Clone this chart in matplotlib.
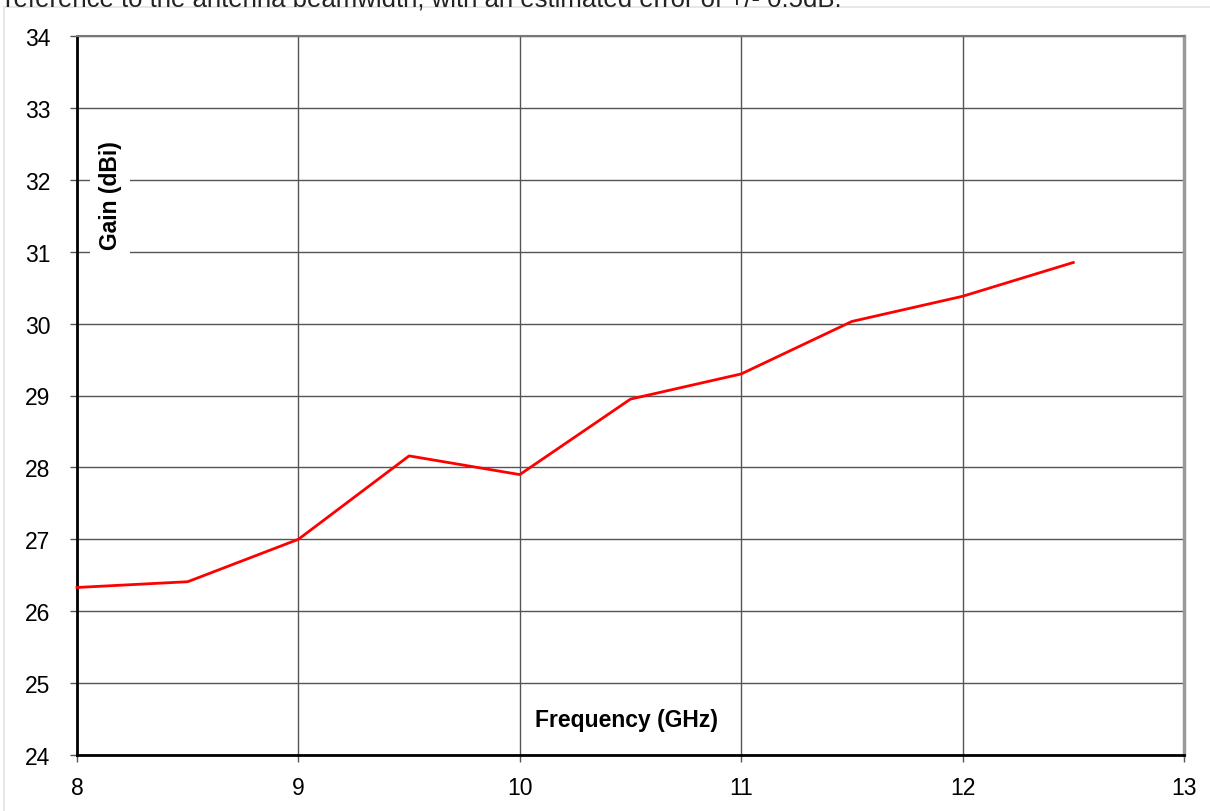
import numpy as np
import matplotlib.pyplot as plt
from matplotlib.patches import Rectangle

plt.rcParams['font.family'] = ['Liberation Sans', 'DejaVu Sans']

freq = [8.0, 8.5, 9.0, 9.5, 10.0, 10.5, 11.0, 11.5, 12.0, 12.5]
gain = [26.33, 26.41, 27.0, 28.16, 27.9, 28.95, 29.3, 30.03, 30.38, 30.85]
x_ticks = [8, 9, 10, 11, 12, 13]
y_ticks = [24, 25, 26, 27, 28, 29, 30, 31, 32, 33, 34]
caption = 'reference to the antenna beamwidth, with an estimated error of +/- 0.5dB.'

fig = plt.figure(figsize=(12.1, 8.12), dpi=100)
fig.patch.set_facecolor('white')

# chart area frame
fig.patches.append(Rectangle((4 / 1210, -0.01), 1.0, 1 - 8 / 812 + 0.01,
                             transform=fig.transFigure, fill=False,
                             edgecolor='#e3eae3', linewidth=1.5))
fig.text(5 / 1210, 1 - 7 / 812, caption, fontsize=18.5, color='#222222',
         ha='left', va='baseline')

ax = fig.add_axes([77 / 1210, 56 / 812, 1107 / 1210, 719 / 812])
ax.plot(freq, gain, color='#ff0000', linewidth=2, zorder=3, clip_on=False)

ax.set_xlim(8, 13)
ax.set_ylim(24, 34)
ax.set_xticks(x_ticks)
ax.set_yticks(y_ticks)
ax.grid(True, color='#555555', linewidth=1)
ax.set_axisbelow(True)

ax.tick_params(axis='both', direction='out', length=5, width=1, color='#555555',
               labelsize=16.5, labelcolor='black')
ax.tick_params(axis='x', pad=10)
ax.tick_params(axis='y', pad=14)

for side in ['left', 'bottom']:
    ax.spines[side].set_color('black')
    ax.spines[side].set_linewidth(2)
ax.spines['top'].set_color('#777777')
ax.spines['top'].set_linewidth(1.5)
ax.spines['right'].set_color('#999999')
ax.spines['right'].set_linewidth(2.5)

ax.text(8.15, 31.8, 'Gain (dBi)', rotation=90, fontsize=16.5, fontweight='bold',
        ha='center', va='center', zorder=4,
        bbox=dict(facecolor='white', edgecolor='none', pad=6))
ax.text(10.48, 24.5, 'Frequency (GHz)', fontsize=16.5, fontweight='bold',
        ha='center', va='center', zorder=4,
        bbox=dict(facecolor='white', edgecolor='none', pad=9))

fig.savefig('out.png', dpi=100)
